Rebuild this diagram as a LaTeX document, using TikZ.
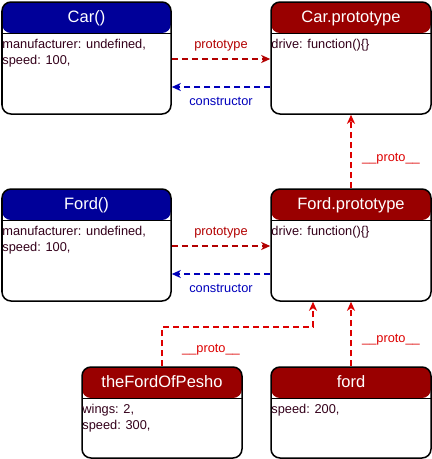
\documentclass[tikz,border=0pt]{standalone}
\usepackage{fontspec}
\setmainfont{Liberation Sans}
\usetikzlibrary{arrows.meta,calc}
\definecolor{headblue}{HTML}{000099}
\definecolor{headred}{HTML}{990000}
\definecolor{bodytxt}{HTML}{33001A}
\definecolor{protoC}{HTML}{B20000}
\definecolor{underC}{HTML}{DD0000}
\definecolor{consC}{HTML}{0000BB}
\tikzset{
  umlframe/.style={draw=black, line width=1.5pt, rounded corners=9pt, inner sep=0pt},
  titletxt/.style={text=white, font=\fontsize{16.5}{19}\selectfont, inner sep=0pt, anchor=base},
  bodytext/.style={text=bodytxt, font=\fontsize{12.8}{15.8}\selectfont, align=left, inner sep=0pt, anchor=north west},
  linklabel/.style={font=\fontsize{12.8}{15}\selectfont, inner sep=0pt, anchor=base},
  link/.style={line width=1.6pt, dash pattern=on 6pt off 4pt, -{Stealth[length=9pt,width=8pt,inset=2.5pt]}},
}
\newcommand\umlbox[8]{%
  \node[umlframe, minimum width=#4pt, minimum height=#5pt,
    path picture={\fill[#6] (path picture bounding box.north west) rectangle ([yshift=-31pt]path picture bounding box.east |- path picture bounding box.north);
      \draw[line width=0.8pt] ([yshift=-31pt]path picture bounding box.north west) -- ([yshift=-31pt]path picture bounding box.north east);}
  ] (#1) at (#2,#3) {};
  \node[titletxt] (#1-t) at ([yshift=-21.5pt]#1.north) {#7};
  \node[bodytext] (#1-b) at ([xshift=1pt,yshift=-38pt]#1.north west) {#8};
}
\begin{document}
\begin{tikzpicture}[x=1pt,y=-1pt]
\useasboundingbox (0,0) rectangle (432,459);
\umlbox{car}{86.5}{58}{169}{112}{headblue}{Car()}{manufacturer: undefined,\\speed: 100,}
\umlbox{carp}{351}{58}{160}{112}{headred}{Car.prototype}{drive: function()\{\}}
\umlbox{ford}{86.5}{245}{169}{112}{headblue}{Ford()}{manufacturer: undefined,\\speed: 100,}
\umlbox{fordp}{351}{245}{160}{112}{headred}{Ford.prototype}{drive: function()\{\}}
\umlbox{pesho}{162}{412.5}{160}{91}{headred}{theFordOfPesho}{wings: 2,\\speed: 300,}
\umlbox{fordo}{351}{412.5}{160}{91}{headred}{ford}{speed: 200,}

\draw[link, protoC] ([yshift=-1pt]car.east) -- ([yshift=-1pt]carp.west);
\draw[link, consC] ([yshift=-29pt]carp.west) -- ([yshift=-29pt]car.east);
\node[linklabel, text=protoC] (l1) at (221,48.5) {prototype};
\node[linklabel, text=consC] (l2) at (221,105) {constructor};

\draw[link, protoC] ([yshift=-1pt]ford.east) -- ([yshift=-1pt]fordp.west);
\draw[link, consC] ([yshift=-29pt]fordp.west) -- ([yshift=-29pt]ford.east);
\node[linklabel, text=protoC] (l3) at (221,235.5) {prototype};
\node[linklabel, text=consC] (l4) at (221,292) {constructor};

\draw[link, underC] (fordp.north) -- (carp.south);
\node[linklabel, text=underC] (l5) at (391,161) {\_\_proto\_\_};
\draw[link, underC] (fordo.north) -- (fordp.south);
\node[linklabel, text=underC] (l6) at (391,342) {\_\_proto\_\_};
\draw[link, underC] (pesho.north) -- ++(0,-39) -| ([xshift=-38pt]fordp.south);
\node[linklabel, text=underC] (l7) at (211,352) {\_\_proto\_\_};
\end{tikzpicture}
\end{document}
